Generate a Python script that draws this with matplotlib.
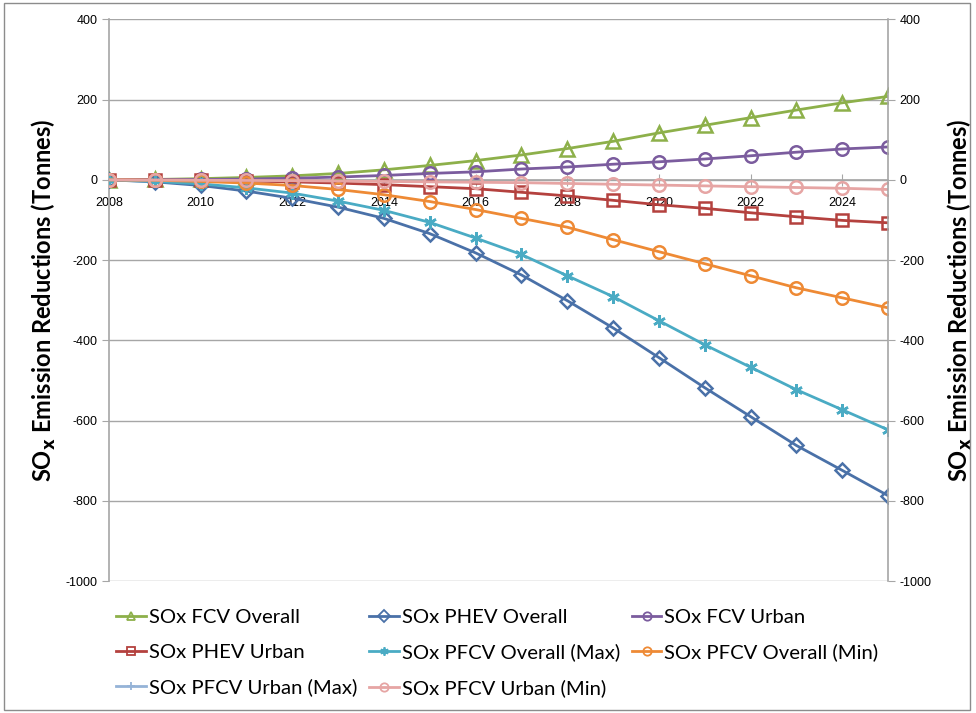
import numpy as np
import matplotlib
matplotlib.use("Agg")
import matplotlib.pyplot as plt
from matplotlib.patches import Rectangle

plt.rcParams['font.family'] = ['Lato', 'DejaVu Sans']
plt.rcParams['mathtext.default'] = 'bf'
plt.rcParams['axes.unicode_minus'] = False

years = list(range(2008, 2026))

fcv_overall = [0, 1, 3, 6, 10, 16, 25, 36, 48, 62, 78, 96, 117, 136, 155, 174, 192, 208]
phev_overall = [0, -5, -14, -28, -46, -68, -96, -134, -182, -237, -301, -369, -443, -518, -590, -662, -724, -787]
fcv_urban = [0, 0.5, 1, 2, 4, 7, 11, 16, 20, 27, 32, 39, 45, 52, 60, 69, 77, 82]
phev_urban = [0, -0.5, -1.5, -3, -5, -8, -12, -17, -22, -31, -40, -51, -62, -71, -82, -92, -101, -107]
pfcv_overall_max = [0, -4, -10, -20, -33, -53, -76, -106, -145, -186, -239, -291, -351, -411, -467, -523, -573, -623]
pfcv_overall_min = [0, -1, -4, -8, -14, -24, -37, -54, -74, -96, -118, -149, -179, -209, -239, -269, -294, -319]
pfcv_urban_max = [np.nan] * len(years)  # not visible in the chart
pfcv_urban_min = [0, -0.5, -1, -1.5, -2, -3, -4, -5, -6, -7, -9, -11, -13, -15, -17, -19, -21, -24]

series = [
    ("SOx FCV Overall", fcv_overall, '#8DB04A', '^', 10),
    ("SOx PHEV Overall", phev_overall, '#4A71A8', 'D', 7),
    ("SOx FCV Urban", fcv_urban, '#7B5C9E', 'o', 9),
    ("SOx PHEV Urban", phev_urban, '#B4413E', 's', 8.5),
    ("SOx PFCV Overall (Max)", pfcv_overall_max, '#4AABC4', (6, 2, 0), 9),
    ("SOx PFCV Overall (Min)", pfcv_overall_min, '#EE8A35', 'o', 9),
    ("SOx PFCV Urban (Max)", pfcv_urban_max, '#95B3D7', '+', 9),
    ("SOx PFCV Urban (Min)", pfcv_urban_min, '#E6A5A4', 'o', 9),
]

fig = plt.figure(figsize=(9.76, 7.13), dpi=100)
ax = fig.add_axes([0.1117, 0.1851, 0.7981, 0.7877])

grid_c = '#A6A6A6'
for name, vals, col, mk, ms in series:
    ax.plot(years, vals, color=col, lw=2, marker=mk, markersize=ms,
            markerfacecolor='none', markeredgecolor=col, markeredgewidth=1.8,
            label=name, zorder=3)

ax.set_xlim(2008, 2025)
ax.set_ylim(-1000, 400)
ax.set_yticks(np.arange(-1000, 401, 200))
ax.set_xticks(range(2008, 2025, 2))
ax.yaxis.grid(True, color=grid_c, lw=1)
ax.set_axisbelow(True)

ax.spines['bottom'].set_position(('data', 0))
ax.spines['top'].set_visible(False)
ax.spines['right'].set_visible(False)
for s in ['bottom', 'left']:
    ax.spines[s].set_color(grid_c)
    ax.spines[s].set_linewidth(1.2)
ax.tick_params(axis='x', direction='inout', length=8, color=grid_c, labelsize=9, pad=8)
ax.tick_params(axis='y', direction='out', length=5, color=grid_c, labelsize=9)
for lbl in ax.get_xticklabels() + ax.get_yticklabels():
    lbl.set_family(['Liberation Sans Narrow', 'Liberation Sans'])

ylab = 'SO$_{x}$ Emission Reductions (Tonnes)'
ax.set_ylabel(ylab, fontsize=17, fontweight='bold')
ax.yaxis.set_label_coords(-0.066, 0.5)

ax2 = ax.twinx()
ax2.set_ylim(-1000, 400)
ax2.set_yticks(np.arange(-1000, 401, 200))
for s in ['top', 'bottom', 'left']:
    ax2.spines[s].set_visible(False)
ax2.spines['right'].set_color(grid_c)
ax2.spines['right'].set_linewidth(1.2)
ax2.tick_params(axis='y', direction='out', length=5, color=grid_c, labelsize=9)
for lbl in ax2.get_yticklabels():
    lbl.set_family(['Liberation Sans Narrow', 'Liberation Sans'])
ax2.set_ylabel(ylab, fontsize=17, fontweight='bold', rotation=90)
ax2.yaxis.set_label_coords(1.074, 0.5)

handles = []
for name, vals, col, mk, ms in series:
    h, = ax.plot([], [], color=col, lw=2, marker=mk, markersize=6,
                 markerfacecolor='none', markeredgecolor=col, markeredgewidth=1.3)
    handles.append(h)
labels = [s[0] for s in series]
# matplotlib fills legend columns first; reorder so rows read left to right
order = [0, 3, 6, 1, 4, 7, 2, 5]
fig.legend([handles[i] for i in order], [labels[i] for i in order], ncol=3,
           loc='upper left', bbox_to_anchor=(0.119, 0.146), frameon=False,
           fontsize=14.6, handlelength=1.45, handletextpad=0.15, columnspacing=0.6,
           labelspacing=0.86, borderaxespad=0, borderpad=0)

fig.patches.append(Rectangle((0.004, 0.004), 0.99, 0.992, transform=fig.transFigure,
                             fill=False, edgecolor='#8C8C8C', lw=1))

fig.savefig('out.png', dpi=100)
